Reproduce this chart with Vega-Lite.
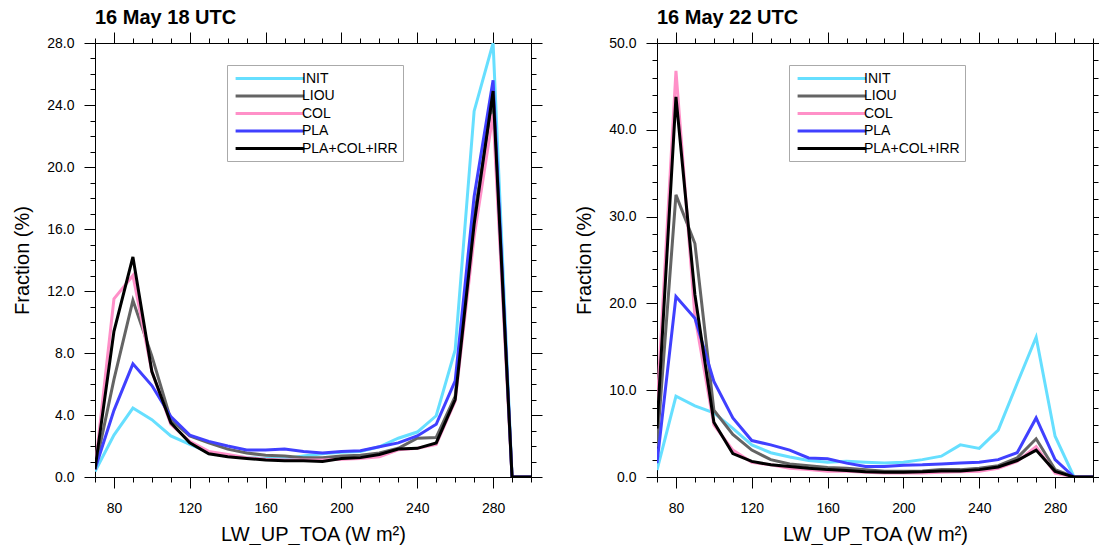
{
  "$schema": "https://vega.github.io/schema/vega-lite/v6.json",
  "background": "white",
  "padding": {"left": 12, "top": 7, "right": 0, "bottom": 0},
  "spacing": 31,
  "config": {
    "font": "Liberation Sans",
    "view": {"stroke": "black", "strokeWidth": 1},
    "axis": {"grid": false, "domain": false, "tickColor": "black", "tickWidth": 1, "labelColor": "black", "titleColor": "black", "labelFont": "Liberation Sans", "titleFont": "Liberation Sans", "labelFontSize": 14, "titleFontSize": 20, "titleFontWeight": "normal"},
    "legend": {"orient": "none", "legendX": 132, "legendY": 22, "symbolType": "M-0.7,0H9.1", "symbolSize": 196, "symbolStrokeWidth": 3, "symbolFillColor": "transparent", "labelFontSize": 14, "labelFont": "Liberation Sans", "labelColor": "black", "strokeColor": "#aaaaaa", "padding": 5, "rowPadding": 1.5, "labelOffset": 53},
    "title": {"font": "Liberation Sans", "fontSize": 20, "fontWeight": "bold", "anchor": "start", "frame": "group", "color": "black", "offset": 4}
  },
  "datasets": {
    "d18": [
      {"x": 70, "INIT": 0.35, "LIOU": 0.5, "COL": 0.5, "PLA": 0.5, "PLA+COL+IRR": 0.5},
      {"x": 80, "INIT": 2.7, "LIOU": 6.3, "COL": 11.5, "PLA": 4.3, "PLA+COL+IRR": 9.4},
      {"x": 90, "INIT": 4.45, "LIOU": 11.4, "COL": 13.0, "PLA": 7.3, "PLA+COL+IRR": 14.2},
      {"x": 100, "INIT": 3.7, "LIOU": 7.8, "COL": 6.8, "PLA": 5.9, "PLA+COL+IRR": 6.8},
      {"x": 110, "INIT": 2.65, "LIOU": 3.7, "COL": 3.4, "PLA": 3.9, "PLA+COL+IRR": 3.5},
      {"x": 120, "INIT": 2.1, "LIOU": 2.65, "COL": 2.3, "PLA": 2.7, "PLA+COL+IRR": 2.2},
      {"x": 130, "INIT": 1.6, "LIOU": 2.2, "COL": 1.65, "PLA": 2.3, "PLA+COL+IRR": 1.5},
      {"x": 140, "INIT": 1.4, "LIOU": 1.8, "COL": 1.45, "PLA": 2.0, "PLA+COL+IRR": 1.3},
      {"x": 150, "INIT": 1.25, "LIOU": 1.55, "COL": 1.25, "PLA": 1.75, "PLA+COL+IRR": 1.2},
      {"x": 160, "INIT": 1.2, "LIOU": 1.4, "COL": 1.15, "PLA": 1.75, "PLA+COL+IRR": 1.1},
      {"x": 170, "INIT": 1.2, "LIOU": 1.35, "COL": 1.1, "PLA": 1.8, "PLA+COL+IRR": 1.05},
      {"x": 180, "INIT": 1.35, "LIOU": 1.25, "COL": 1.1, "PLA": 1.65, "PLA+COL+IRR": 1.05},
      {"x": 190, "INIT": 1.5, "LIOU": 1.25, "COL": 1.1, "PLA": 1.55, "PLA+COL+IRR": 1.0},
      {"x": 200, "INIT": 1.6, "LIOU": 1.35, "COL": 1.15, "PLA": 1.65, "PLA+COL+IRR": 1.2},
      {"x": 210, "INIT": 1.65, "LIOU": 1.4, "COL": 1.2, "PLA": 1.7, "PLA+COL+IRR": 1.25},
      {"x": 220, "INIT": 1.95, "LIOU": 1.55, "COL": 1.3, "PLA": 1.95, "PLA+COL+IRR": 1.45},
      {"x": 230, "INIT": 2.5, "LIOU": 1.85, "COL": 1.75, "PLA": 2.2, "PLA+COL+IRR": 1.8},
      {"x": 240, "INIT": 2.9, "LIOU": 2.5, "COL": 1.85, "PLA": 2.65, "PLA+COL+IRR": 1.85},
      {"x": 250, "INIT": 3.95, "LIOU": 2.55, "COL": 2.1, "PLA": 3.4, "PLA+COL+IRR": 2.2},
      {"x": 260, "INIT": 8.2, "LIOU": 5.2, "COL": 4.9, "PLA": 6.2, "PLA+COL+IRR": 5.0},
      {"x": 270, "INIT": 23.6, "LIOU": 16.8, "COL": 15.5, "PLA": 18.1, "PLA+COL+IRR": 16.3},
      {"x": 280, "INIT": 28.0, "LIOU": 24.5, "COL": 23.4, "PLA": 25.6, "PLA+COL+IRR": 24.9},
      {"x": 290, "INIT": 0, "LIOU": 0, "COL": 0, "PLA": 0, "PLA+COL+IRR": 0},
      {"x": 300, "INIT": 0, "LIOU": 0, "COL": 0, "PLA": 0, "PLA+COL+IRR": 0}
    ],
    "d22": [
      {"x": 70, "INIT": 0.8, "LIOU": 3.5, "COL": 8.0, "PLA": 1.6, "PLA+COL+IRR": 5.6},
      {"x": 80, "INIT": 9.3, "LIOU": 32.5, "COL": 46.8, "PLA": 20.8, "PLA+COL+IRR": 43.8},
      {"x": 90, "INIT": 8.2, "LIOU": 26.9, "COL": 18.5, "PLA": 18.3, "PLA+COL+IRR": 21.0},
      {"x": 100, "INIT": 7.4, "LIOU": 7.7, "COL": 6.0, "PLA": 11.0, "PLA+COL+IRR": 6.3},
      {"x": 110, "INIT": 5.6, "LIOU": 4.9, "COL": 3.1, "PLA": 6.8, "PLA+COL+IRR": 2.7},
      {"x": 120, "INIT": 3.7, "LIOU": 3.1, "COL": 1.7, "PLA": 4.2, "PLA+COL+IRR": 1.8},
      {"x": 130, "INIT": 2.8, "LIOU": 2.0, "COL": 1.4, "PLA": 3.7, "PLA+COL+IRR": 1.4},
      {"x": 140, "INIT": 2.3, "LIOU": 1.5, "COL": 1.0, "PLA": 3.1, "PLA+COL+IRR": 1.2},
      {"x": 150, "INIT": 1.9, "LIOU": 1.3, "COL": 0.85, "PLA": 2.2, "PLA+COL+IRR": 1.0},
      {"x": 160, "INIT": 1.7, "LIOU": 1.1, "COL": 0.65, "PLA": 2.1, "PLA+COL+IRR": 0.85},
      {"x": 170, "INIT": 1.8, "LIOU": 1.0, "COL": 0.65, "PLA": 1.6, "PLA+COL+IRR": 0.75},
      {"x": 180, "INIT": 1.7, "LIOU": 0.85, "COL": 0.55, "PLA": 1.2, "PLA+COL+IRR": 0.6},
      {"x": 190, "INIT": 1.6, "LIOU": 0.65, "COL": 0.45, "PLA": 1.2, "PLA+COL+IRR": 0.55},
      {"x": 200, "INIT": 1.7, "LIOU": 0.65, "COL": 0.45, "PLA": 1.35, "PLA+COL+IRR": 0.55},
      {"x": 210, "INIT": 2.0, "LIOU": 0.7, "COL": 0.45, "PLA": 1.4, "PLA+COL+IRR": 0.6},
      {"x": 220, "INIT": 2.4, "LIOU": 0.85, "COL": 0.55, "PLA": 1.5, "PLA+COL+IRR": 0.7},
      {"x": 230, "INIT": 3.7, "LIOU": 0.85, "COL": 0.6, "PLA": 1.6, "PLA+COL+IRR": 0.7},
      {"x": 240, "INIT": 3.3, "LIOU": 1.0, "COL": 0.65, "PLA": 1.7, "PLA+COL+IRR": 0.85},
      {"x": 250, "INIT": 5.4, "LIOU": 1.3, "COL": 1.0, "PLA": 2.0, "PLA+COL+IRR": 1.15},
      {"x": 260, "INIT": 10.8, "LIOU": 2.2, "COL": 1.8, "PLA": 2.8, "PLA+COL+IRR": 1.9},
      {"x": 270, "INIT": 16.1, "LIOU": 4.4, "COL": 3.5, "PLA": 6.8, "PLA+COL+IRR": 3.1},
      {"x": 280, "INIT": 4.7, "LIOU": 0.85, "COL": 0.45, "PLA": 2.0, "PLA+COL+IRR": 0.65},
      {"x": 290, "INIT": 0, "LIOU": 0, "COL": 0, "PLA": 0, "PLA+COL+IRR": 0},
      {"x": 300, "INIT": 0, "LIOU": 0, "COL": 0, "PLA": 0, "PLA+COL+IRR": 0}
    ]
  },
  "hconcat": [
    {
      "width": 436,
      "height": 434,
      "title": {"text": "16 May 18 UTC"},
      "data": {"name": "d18"},
      "transform": [{"fold": ["INIT", "LIOU", "COL", "PLA", "PLA+COL+IRR"], "as": ["series", "value"]}],
      "layer": [
        {
          "mark": {"type": "line", "strokeWidth": 3, "clip": true},
          "encoding": {
            "x": {"field": "x", "type": "quantitative", "scale": {"domain": [70, 300], "nice": false, "zero": false}, "axis": {"orient": "bottom", "values": [80, 120, 160, 200, 240, 280], "tickSize": 11, "labelPadding": 13, "title": "LW_UP_TOA (W m²)", "titlePadding": 9}},
            "y": {"field": "value", "type": "quantitative", "scale": {"domain": [0, 28], "nice": false}, "axis": {"orient": "left", "values": [0, 4, 8, 12, 16, 20, 24, 28], "format": ".1f", "tickSize": 11, "labelPadding": 10, "title": "Fraction (%)", "titlePadding": 14}},
            "color": {"field": "series", "type": "nominal", "scale": {"domain": ["INIT", "LIOU", "COL", "PLA", "PLA+COL+IRR"], "range": ["#66dfff", "#646464", "#ff90c8", "#4040ff", "#000000"]}, "legend": {"title": null}}
          }
        },
        {
          "mark": {"type": "line", "opacity": 0},
          "encoding": {
            "detail": {"field": "series"},
            "x": {"field": "x", "type": "quantitative", "axis": {"orient": "top", "values": [80, 120, 160, 200, 240, 280], "tickSize": 11, "labels": false, "title": null}},
            "y": {"field": "value", "type": "quantitative", "axis": {"orient": "right", "values": [0, 4, 8, 12, 16, 20, 24, 28], "tickSize": 11, "labels": false, "title": null}}
          }
        },
        {
          "mark": {"type": "line", "opacity": 0},
          "encoding": {
            "detail": {"field": "series"},
            "x": {"field": "x", "type": "quantitative", "axis": {"orient": "bottom", "values": [70, 90, 100, 110, 130, 140, 150, 170, 180, 190, 210, 220, 230, 250, 260, 270, 290, 300], "tickSize": 5, "labels": false, "title": null}},
            "y": {"field": "value", "type": "quantitative", "axis": {"orient": "left", "values": [1, 2, 3, 5, 6, 7, 9, 10, 11, 13, 14, 15, 17, 18, 19, 21, 22, 23, 25, 26, 27], "tickSize": 5, "labels": false, "title": null}}
          }
        },
        {
          "mark": {"type": "line", "opacity": 0},
          "encoding": {
            "detail": {"field": "series"},
            "x": {"field": "x", "type": "quantitative", "axis": {"orient": "top", "values": [70, 90, 100, 110, 130, 140, 150, 170, 180, 190, 210, 220, 230, 250, 260, 270, 290, 300], "tickSize": 5, "labels": false, "title": null}},
            "y": {"field": "value", "type": "quantitative", "axis": {"orient": "right", "values": [1, 2, 3, 5, 6, 7, 9, 10, 11, 13, 14, 15, 17, 18, 19, 21, 22, 23, 25, 26, 27], "tickSize": 5, "labels": false, "title": null}}
          }
        }
      ],
      "resolve": {"axis": {"x": "independent", "y": "independent"}}
    },
    {
      "width": 436,
      "height": 434,
      "title": {"text": "16 May 22 UTC"},
      "data": {"name": "d22"},
      "transform": [{"fold": ["INIT", "LIOU", "COL", "PLA", "PLA+COL+IRR"], "as": ["series", "value"]}],
      "layer": [
        {
          "mark": {"type": "line", "strokeWidth": 3, "clip": true},
          "encoding": {
            "x": {"field": "x", "type": "quantitative", "scale": {"domain": [70, 300], "nice": false, "zero": false}, "axis": {"orient": "bottom", "values": [80, 120, 160, 200, 240, 280], "tickSize": 11, "labelPadding": 13, "title": "LW_UP_TOA (W m²)", "titlePadding": 9}},
            "y": {"field": "value", "type": "quantitative", "scale": {"domain": [0, 50], "nice": false}, "axis": {"orient": "left", "values": [0, 10, 20, 30, 40, 50], "format": ".1f", "tickSize": 11, "labelPadding": 10, "title": "Fraction (%)", "titlePadding": 14}},
            "color": {"field": "series", "type": "nominal", "scale": {"domain": ["INIT", "LIOU", "COL", "PLA", "PLA+COL+IRR"], "range": ["#66dfff", "#646464", "#ff90c8", "#4040ff", "#000000"]}, "legend": {"title": null}}
          }
        },
        {
          "mark": {"type": "line", "opacity": 0},
          "encoding": {
            "detail": {"field": "series"},
            "x": {"field": "x", "type": "quantitative", "axis": {"orient": "top", "values": [80, 120, 160, 200, 240, 280], "tickSize": 11, "labels": false, "title": null}},
            "y": {"field": "value", "type": "quantitative", "axis": {"orient": "right", "values": [0, 10, 20, 30, 40, 50], "tickSize": 11, "labels": false, "title": null}}
          }
        },
        {
          "mark": {"type": "line", "opacity": 0},
          "encoding": {
            "detail": {"field": "series"},
            "x": {"field": "x", "type": "quantitative", "axis": {"orient": "bottom", "values": [70, 90, 100, 110, 130, 140, 150, 170, 180, 190, 210, 220, 230, 250, 260, 270, 290, 300], "tickSize": 5, "labels": false, "title": null}},
            "y": {"field": "value", "type": "quantitative", "axis": {"orient": "left", "values": [2, 4, 6, 8, 12, 14, 16, 18, 22, 24, 26, 28, 32, 34, 36, 38, 42, 44, 46, 48], "tickSize": 5, "labels": false, "title": null}}
          }
        },
        {
          "mark": {"type": "line", "opacity": 0},
          "encoding": {
            "detail": {"field": "series"},
            "x": {"field": "x", "type": "quantitative", "axis": {"orient": "top", "values": [70, 90, 100, 110, 130, 140, 150, 170, 180, 190, 210, 220, 230, 250, 260, 270, 290, 300], "tickSize": 5, "labels": false, "title": null}},
            "y": {"field": "value", "type": "quantitative", "axis": {"orient": "right", "values": [2, 4, 6, 8, 12, 14, 16, 18, 22, 24, 26, 28, 32, 34, 36, 38, 42, 44, 46, 48], "tickSize": 5, "labels": false, "title": null}}
          }
        }
      ],
      "resolve": {"axis": {"x": "independent", "y": "independent"}}
    }
  ],
  "resolve": {"scale": {"x": "independent", "y": "independent", "color": "independent"}, "legend": {"color": "independent"}}
}
